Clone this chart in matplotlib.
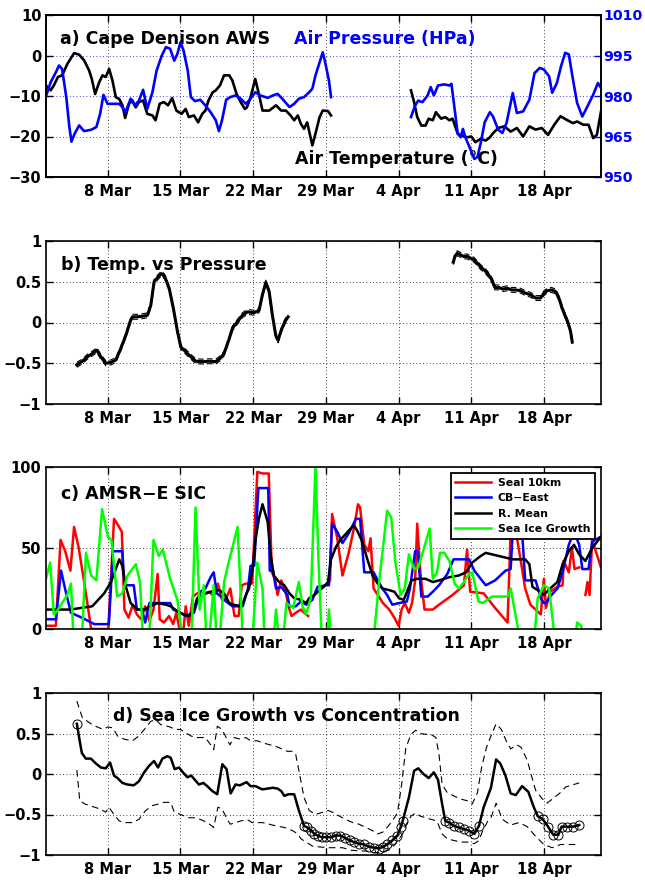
import numpy as np
import matplotlib
matplotlib.use("Agg")
import matplotlib.pyplot as plt

plt.rcParams["font.family"] = ["DejaVu Sans"]
plt.rcParams["font.weight"] = "bold"
plt.rcParams["axes.unicode_minus"] = True

nan = np.nan

# ── x axis (days, 8 = 8 Mar) ──────────────────────────────────────────────────
XLIM = (2.0, 55.5)
TICK_DAYS = [8, 15, 22, 29, 36, 43, 50]
TICK_LABELS = ["8 Mar", "15 Mar", "22 Mar", "29 Mar", "4 Apr", "11 Apr", "18 Apr"]

# ── a) Cape Denison AWS ───────────────────────────────────────────────────────
temp_day = [2.04, 2.5, 2.8, 3.2, 3.6, 4.1, 4.76, 5.24, 5.72, 6.2, 6.46, 6.78, 7.17, 7.49, 7.8,
            8.13, 8.45, 8.77, 9.09, 9.41, 9.67, 10.05, 10.37, 10.69, 11.0, 11.4, 11.8, 12.3,
            12.6, 13.0, 13.4, 13.8, 14.2, 14.6, 15.1, 15.5, 15.8, 16.3, 16.7, 17.1, 17.4,
            17.7, 18.1, 18.4, 18.8, 19.2, 19.7, 20.0, 20.4, 20.8, 21.2, 21.4, 21.75, 22.2,
            22.55, 22.9, 23.55, 24.2, 24.7, 25.15, 25.6, 25.95, 26.3, 26.6, 26.9, 27.2, 27.7,
            28.0, 28.4, 28.7, 29.2, 29.5, 33.0,
            37.2, 37.5, 37.8, 38.2, 38.6, 38.9, 39.3, 39.6, 40.1, 40.5, 40.9, 41.2, 41.7, 42.1,
            42.6, 43.0, 43.4, 43.9, 44.4, 44.8, 45.1, 45.6, 46.2, 46.8, 47.4, 48.0, 48.6, 49.2,
            49.8, 50.4, 51.0, 51.6, 52.2, 52.8, 53.2, 53.8, 54.3, 54.75, 55.1, 55.5]
temp_val = [-7.4, -8.6, -7.4, -5.3, -4.9, -2.1, 0.6, 0.2, -1.2, -3.7, -5.8, -9.5, -6.6, -4.9, -5.3,
            -3.3, -6.2, -10.3, -10.7, -12.3, -15.4, -11.9, -11.1, -12.8, -11.5, -11.1, -14.4, -14.8,
            -16.0, -11.9, -11.5, -12.3, -10.5, -13.6, -14.4, -13.2, -15.2, -14.8, -16.5, -14.4, -13.6,
            -11.1, -9.1, -8.6, -7.4, -4.9, -4.9, -6.2, -9.5, -11.5, -13.2, -12.8, -10.3, -5.8,
            -9.5, -13.6, -13.6, -12.3, -13.6, -13.6, -14.8, -16.0, -14.8, -16.9, -18.1, -16.5, -22.2,
            -19.3, -15.2, -13.6, -13.7, -14.8, nan,
            -8.6, -11.5, -15.2, -17.3, -17.3, -15.6, -16.0, -14.0, -15.6, -15.2, -16.0, -15.6, -19.3, -19.8,
            -20.2, -20.0, -21.4, -20.6, -21.0, -20.2, -19.2, -17.9, -17.5, -18.8, -17.9, -20.0, -17.5, -18.3,
            -17.9, -19.6, -17.1, -15.0, -15.9, -16.7, -16.3, -17.1, -17.1, -20.4, -19.6, -13.8]

pres_day = [2.04, 2.5, 3.0, 3.3, 3.6, 4.0, 4.3, 4.5, 4.8, 5.24, 5.72, 6.4, 6.9, 7.26, 7.58, 7.97,
            8.6, 9.1, 9.4, 9.7, 10.2, 10.6, 11.0, 11.4, 11.8, 12.3, 12.7, 13.2, 13.6, 14.0, 14.4,
            14.7, 15.0, 15.3, 15.7, 16.0, 16.4, 16.9, 17.4, 17.9, 18.4, 18.7, 19.0, 19.4, 19.8,
            20.3, 20.8, 21.3, 21.75, 22.2, 22.7, 23.4, 23.9, 24.35, 24.8, 25.5, 25.95, 26.4, 26.9,
            27.4, 27.7, 28.0, 28.4, 28.7, 28.9, 29.3, 29.5, 33.0,
            37.2, 37.6, 37.9, 38.3, 38.8, 39.1, 39.4, 39.8, 40.4, 40.9, 41.1, 41.3, 41.7, 42.0,
            42.2, 42.5, 42.9, 43.3, 43.6, 43.9, 44.3, 44.8, 45.1, 45.6, 46.0, 46.4, 47.0, 47.4,
            48.0, 48.6, 49.1, 49.6, 50.0, 50.5, 50.8, 51.25, 51.65, 52.05, 52.4, 52.8, 53.2,
            53.7, 54.2, 54.75, 55.2, 55.5]
pres_val = [979.8, 985.1, 988.8, 991.3, 990.0, 979.6, 968.5, 963.1, 966.0, 969.1, 967.0, 967.5,
            968.5, 973.4, 980.4, 977.1, 977.1, 977.1, 975.9, 974.0, 979.0, 976.5, 978.3, 982.3,
            975.2, 981.4, 989.4, 995.0, 998.1, 997.5, 993.1, 995.6, 999.9, 996.8, 989.4, 979.6,
            978.1, 978.6, 976.5, 974.0, 971.0, 967.0, 971.0, 978.6, 979.6, 980.2, 979.0, 977.1,
            979.0, 981.4, 980.2, 979.3, 980.2, 980.8, 979.0, 975.9, 977.1, 979.0, 979.6, 981.4,
            982.7, 987.6, 992.5, 996.2, 993.1, 985.7, 979.6, nan,
            972.2, 976.5, 978.3, 977.7, 980.2, 983.3, 980.2, 983.9, 984.3, 983.9, 984.5, 978.3,
            966.0, 964.7, 967.8, 964.1, 960.5, 956.7, 957.4, 962.3, 970.3, 974.0, 972.4, 967.5,
            966.3, 970.0, 981.1, 973.7, 974.3, 978.6, 988.5, 990.4, 989.8, 987.3, 981.2, 984.8,
            991.0, 996.0, 995.4, 986.1, 977.4, 972.4, 976.2, 980.5, 984.8, 983.0]

# ── b) Temp. vs Pressure ──────────────────────────────────────────────────────
corr_day = [5.01, 5.56, 6.04, 6.52, 6.94, 7.33, 7.81, 8.29, 8.77, 9.25, 9.73, 10.15, 10.38, 10.86,
            11.5, 11.82, 12.14, 12.46, 12.85, 13.17, 13.49, 13.91, 14.32, 14.71, 15.03, 15.51,
            15.99, 16.48, 17.12, 17.76, 18.4, 18.82, 19.2, 19.69, 20.01, 20.49, 20.97, 21.45,
            22.09, 22.57, 22.89, 23.22, 23.54, 23.85, 24.18, 24.4, 24.66, 25.05, 25.37, 33.0,
            41.27, 41.43, 41.65, 41.97, 42.29, 42.6, 42.94, 43.26, 43.58, 43.9, 44.3, 44.7, 45.0,
            45.28, 45.67, 46.05, 46.47, 46.89, 47.27, 47.75, 48.23, 48.72, 49.2, 49.68, 50.0,
            50.32, 50.74, 51.12, 51.45, 51.77, 52.09, 52.34, 52.57, 52.73]
corr_val = [-0.52, -0.475, -0.42, -0.38, -0.34, -0.42, -0.50, -0.49, -0.46, -0.32, -0.16, 0.01,
            0.07, 0.07, 0.08, 0.09, 0.21, 0.50, 0.56, 0.60, 0.56, 0.42, 0.17, -0.11, -0.30, -0.36,
            -0.42, -0.475, -0.48, -0.475, -0.48, -0.44, -0.38, -0.20, -0.07, 0.01, 0.09, 0.13,
            0.12, 0.15, 0.34, 0.49, 0.38, 0.09, -0.16, -0.22, -0.11, 0.01, 0.07, nan,
            0.74, 0.81, 0.85, 0.83, 0.81, 0.81, 0.79, 0.77, 0.73, 0.68, 0.64, 0.58, 0.52,
            0.43, 0.43, 0.41, 0.42, 0.40, 0.40, 0.39, 0.36, 0.34, 0.30, 0.30, 0.36,
            0.39, 0.40, 0.38, 0.30, 0.17, 0.07, -0.01, -0.11, -0.24]
corr_band = 0.03  # half width of the dashed bounds

# ── c) AMSR-E SIC ─────────────────────────────────────────────────────────────
seal_day = [2.1, 3.0, 3.45, 3.9, 4.4, 4.75, 5.2, 5.7, 6.4, 8.05, 8.6, 9.0, 9.35, 9.6, 10.0, 10.4,
            10.8, 11.2, 11.6, 12.0, 12.4, 12.8, 13.0, 13.4, 13.9, 14.3, 14.6, 14.9, 15.3, 15.5,
            15.8, 16.2, 16.6, 17.2, 17.8, 18.2, 18.6, 19.0, 19.4, 19.8, 20.2, 20.6, 20.9, 21.3,
            21.9, 22.4, 22.9, 23.5, 23.8, 24.1, 24.35, 24.7, 25.1, 25.4, 25.7, 26.1, 26.6, 27.1,
            27.3, 28.3, 29.4, 29.6, 30.1, 30.6, 31.2, 31.7, 32.1, 32.3, 32.7, 33.1, 33.3, 33.6,
            34.0, 34.5, 35.1, 35.6, 36.0, 36.3, 36.6, 37.0, 37.3, 37.6, 37.8, 38.1, 38.5, 39.3,
            39.9, 41.2, 42.3, 42.6, 42.9, 44.2, 45.3, 46.5, 46.8, 47.3, 47.7, 48.2, 48.7, 49.7,
            50.0, 50.2, 50.6, 51.3, 51.8, 51.9, 52.4, 52.7, 52.95, 53.4, 53.7, 54.0, 54.2, 54.4,
            54.65, 55.0, 55.5]
seal_val = [2, 2, 55, 48, 36, 63, 50, 30, 0, 0, 68, 64, 60, 12, 7, 15,
            9, 6, 14, 5, 12, 34, 6, 4, 8, 3, 10, 0, 0, 14,
            2, 20, 22, 22, 23, 20, 28, 18, 19, 25, 8, 8, 27, 28,
            28, 97, 96, 96, 35, 31, 21, 30, 24, 14, 8, 10, 12, 9,
            8, nan, 30, 71, 56, 33, 47, 62, 77, 75, 52, 48, 56, 25,
            21, 16, 12, 7, 2, 12, 16, 10, 16, 30, 65, 35, 12, 12,
            15, 21, 27, 49, 23, 22, 13, 4, 60, 60, 45, 25, 15, 9,
            31, 13, 23, 26, 27, 42, 35, 50, 37, 38, nan, 21, 29, 21,
            55, 48, 38]

cbe_day = [2.05, 3.0, 3.5, 3.95, 4.45, 5.5, 6.7, 8.1, 8.5, 9.4, 9.6, 10.5, 10.8, 11.3, 11.6, 12.0,
           14.0, 14.3, 15.0, 15.5, 16.3, 16.9, 17.4, 17.9, 18.2, 18.5, 18.9, 19.2, 20.0, 21.0,
           21.5, 21.75, 22.1, 22.5, 23.45, 23.6, 23.9, 24.2, 24.7, 25.3, 25.5, 26.1, 26.6, 27.1,
           27.7, 28.2, 29.0, 29.3, 29.6, 30.1, 30.6, 31.2, 31.9, 32.3, 32.7, 33.6, 34.0, 34.45,
           34.9, 35.4, 36.05, 36.8, 37.1, 37.6, 37.85, 38.2, 38.8, 39.3, 39.9, 40.7, 41.3, 42.8,
           43.3, 44.4, 45.3, 46.3, 46.8, 47.0, 47.9, 48.2, 49.2, 49.7, 50.0, 50.2, 50.6, 51.3,
           51.8, 52.4, 52.9, 53.4, 53.7, 54.3, 54.65, 55.5]
cbe_val = [6, 6, 36, 23, 10, 7, 3, 3, 48, 48, 27, 27, 12, 12, 4, 16,
           16, 12, 10, 8, 10, 23, 25, 32, 35, 22, 20, 18, 14, 14,
           25, 39, 39, 87, 87, 36, 36, 25, 26, 21, 14, 14, 17, 15,
           18, 26, 27, 27, 65, 60, 53, 59, 68, 68, 35, 35, 30, 25,
           21, 15, 16, 17, 25, 48, 48, 20, 20, 23, 27, 34, 43, 43,
           36, 27, 30, 36, 37, 60, 60, 30, 30, 19, 16, 16, 20, 25,
           35, 52, 60, 52, 37, 37, 54, 57]

rmean_day = [2.04, 3.2, 4.4, 5.4, 6.5, 7.65, 8.3, 8.77, 9.1, 9.4, 9.7, 10.2, 10.85, 11.5, 12.1,
             12.8, 13.6, 14.05, 14.7, 15.3, 15.8, 16.3, 16.6, 17.1, 17.9, 18.7, 19.2, 19.7, 20.1,
             20.9, 21.3, 21.6, 21.9, 22.2, 22.55, 22.9, 23.4, 23.7, 24.0, 24.5, 25.0, 25.5, 25.95,
             26.6, 27.1, 27.4, 27.9, 28.4, 28.8, 29.2, 29.5, 30.0, 30.4, 31.1, 31.7, 32.0, 32.5,
             33.0, 33.5, 34.0, 34.45, 35.1, 35.6, 36.05, 36.5, 37.25, 37.8, 38.6, 39.3, 39.9,
             40.9, 41.8, 42.5, 43.1, 43.9, 44.4, 45.7, 47.0, 48.2, 48.6, 48.9, 49.4, 50.0, 50.6,
             51.3, 51.8, 52.4, 52.9, 53.4, 54.0, 54.65, 55.5]
rmean_val = [12, 12, 12, 13, 14, 22, 29, 37, 43, 39, 27, 16, 12, 12, 14,
             16, 15, 14, 11, 9, 8, 12, 19, 21, 23, 24, 22, 16, 15,
             14, 21, 25, 35, 54, 68, 77, 66, 45, 33, 29, 27, 22, 19,
             18, 16, 19, 21, 24, 26, 29, 43, 51, 55, 60, 64, 61, 54,
             43, 33, 28, 25, 24, 23, 19, 18, 30, 31, 31, 29, 30,
             32, 33, 35, 41, 45, 47, 45, 43, 43, 40, 26, 24, 21, 25,
             29, 40, 48, 52, 46, 42, 50, 57]

growth_day = [2.0, 2.45, 2.8, 3.0, 3.6, 4.1, 4.45, 4.8, 5.4, 5.9, 6.4, 6.9, 7.45, 8.0, 8.35, 8.9,
              9.4, 9.9, 10.7, 11.1, 11.5, 11.9, 12.4, 12.9, 13.3, 14.0, 14.7, 15.5, 16.0, 16.45,
              16.85, 17.25, 17.6, 18.2, 18.6, 19.2, 19.6, 20.5, 21.1, 21.8, 22.4, 22.9, 23.2, 23.8,
              24.2, 24.7, 25.2, 25.85, 26.4, 26.75, 27.1, 27.55, 28.0, 28.3, 28.7, 29.0, 29.3,
              29.6, 33.4, 34.1, 34.9, 35.3, 35.7, 36.2, 36.6, 37.0, 37.5, 37.9, 38.5, 39.0, 39.3,
              39.7, 40.0, 40.4, 40.9, 41.4, 41.8, 42.3, 42.8, 43.1, 43.7, 44.1, 45.0, 46.5, 46.8,
              48.1, 48.9, 49.4, 50.0, 50.5, 51.3, 52.8, 53.2, 53.6, 54.0, 55.5]
growth_val = [30, 41, 9, 10, 16, 21, 28, -20, -20, 47, 33, 30, 74, 57, 55, 20,
              22, 33, 40, 29, -20, -20, 55, 45, 49, 31, 18, -20, -20, 75,
              12, 27, -20, 27, -20, 29, 40, 63, -20, -20, 41, 25, -20, -20,
              12, -20, 16, 13, 29, 14, 9, 19, 101, 41, -20, -20, 12,
              -20, -20, 27, 73, 69, 41, 21, 25, 46, 37, 38, 51, 62, 31,
              35, 47, 47, 42, 28, 25, 29, 34, 35, 17, 16, 20, 20, 25,
              -20, -20, 19, 27, 25, -20, -20, 4, 2, -20, -20]

# ── d) Sea Ice Growth vs Concentration ────────────────────────────────────────
gc_day = [5.02, 5.24, 5.5, 5.88, 6.37, 6.85, 7.33, 7.8, 8.22, 8.6, 8.93, 9.4, 9.9, 10.5, 11.0,
          11.5, 11.97, 12.45, 12.84, 13.26, 13.74, 14.06, 14.44, 14.86, 15.24, 15.66, 16.04,
          16.37, 16.78, 17.2, 17.58, 18.06, 18.54, 19.03, 19.44, 19.83, 20.3, 20.72, 21.36,
          21.75, 22.23, 22.87, 23.4, 23.9, 24.35, 24.7, 25.0, 25.4, 25.95, 26.4, 26.9, 27.2,
          27.6, 27.9, 28.2, 28.6, 29.0, 29.5, 29.96, 30.4, 30.86, 31.3, 31.7, 32.2, 32.7, 33.2,
          33.65, 34.1, 34.5, 34.9, 35.4, 35.9, 36.2, 36.4, 37.0, 37.5, 37.9, 38.4, 38.9, 39.4,
          39.8, 40.2, 40.5, 40.9, 41.3, 41.8, 42.3, 42.8, 43.3, 43.75, 44.2, 44.9, 45.4, 45.8,
          46.3, 46.8, 47.3, 47.9, 48.5, 49.0, 49.4, 49.9, 50.4, 50.9, 51.4, 51.7, 52.2, 52.8,
          53.4]
gc_val = [0.62, 0.45, 0.26, 0.19, 0.19, 0.13, 0.08, 0.07, 0.14, -0.02, -0.05, -0.11, -0.13, -0.14,
          -0.09, 0.02, 0.10, 0.16, 0.08, 0.19, 0.22, 0.20, 0.06, 0.08, 0.02, -0.04, -0.02, -0.07,
          -0.13, -0.11, -0.15, -0.21, -0.25, 0.12, 0.06, -0.24, -0.13, -0.14, -0.10, -0.15, -0.15,
          -0.19, -0.18, -0.17, -0.18, -0.21, -0.27, -0.25, -0.25, -0.45, -0.64, -0.66, -0.70,
          -0.74, -0.76, -0.78, -0.78, -0.78, -0.76, -0.76, -0.79, -0.82, -0.84, -0.86, -0.87,
          -0.90, -0.91, -0.92, -0.90, -0.87, -0.82, -0.76, -0.66, -0.58, -0.29, 0.04, 0.07, 0.00,
          -0.05, 0.02, -0.07, -0.37, -0.58, -0.60, -0.64, -0.66, -0.68, -0.70, -0.74, -0.64,
          -0.41, -0.17, 0.18, 0.13, -0.02, -0.24, -0.26, -0.15, -0.22, -0.40, -0.52, -0.56,
          -0.65, -0.75, -0.75, -0.65, -0.65, -0.65, -0.63]
gc_sig = [1, 0, 0, 0, 0, 0, 0, 0, 0, 0, 0, 0, 0, 0, 0,
          0, 0, 0, 0, 0, 0, 0, 0, 0, 0, 0, 0,
          0, 0, 0, 0, 0, 0, 0, 0, 0, 0, 0, 0,
          0, 0, 0, 0, 0, 0, 0, 0, 0, 0, 0, 1, 1,
          1, 1, 1, 1, 1, 1, 1, 1, 1, 1, 1, 1, 1, 1,
          1, 1, 1, 1, 1, 1, 1, 1, 0, 0, 0, 0, 0, 0,
          0, 0, 1, 1, 1, 1, 1, 1, 1, 1, 0, 0, 0, 0,
          0, 0, 0, 0, 0, 0, 1, 1, 1, 1, 1, 1, 1, 1,
          1]

gc_up_day = [5.02, 5.56, 6.04, 6.5, 7.17, 7.6, 7.97, 8.5, 8.93, 9.57, 10.37, 11.0, 11.65, 12.13,
             12.6, 13.1, 14.0, 14.5, 15.0, 15.5, 16.0, 16.5, 17.4, 17.9, 18.2, 18.55, 19.0, 19.76,
             20.15, 20.8, 21.3, 21.75, 22.4, 22.9, 24.2, 25.3, 25.8, 26.1, 26.5, 26.9, 27.4, 28.0,
             28.5, 29.2, 29.8, 30.3, 30.9, 31.6, 32.2, 32.85, 33.5, 33.97, 34.45, 34.9, 35.4, 35.9,
             36.3, 36.7, 37.2, 37.65, 38.1, 38.6, 39.1, 39.6, 39.9, 40.2, 40.7, 41.3, 42.0, 42.6,
             43.1, 43.6, 44.0, 44.45, 44.9, 45.4, 45.9, 46.4, 46.8, 47.4, 47.8, 48.4, 48.8, 49.2,
             49.8, 50.3, 50.9, 51.5, 52.1, 53.4]
gc_up_val = [0.90, 0.69, 0.65, 0.61, 0.57, 0.55, 0.58, 0.57, 0.47, 0.43, 0.41, 0.47, 0.57, 0.65,
             0.67, 0.61, 0.58, 0.55, 0.55, 0.51, 0.47, 0.45, 0.45, 0.36, 0.30, 0.59, 0.55, 0.36,
             0.45, 0.43, 0.45, 0.41, 0.41, 0.385, 0.34, 0.28, 0.28, 0.24, -0.02, -0.29, -0.45, -0.50,
             -0.48, -0.45, -0.48, -0.52, -0.56, -0.60, -0.62, -0.66, -0.70, -0.74, -0.72, -0.66, -0.58,
             -0.48, -0.13, 0.32, 0.49, 0.54, 0.50, 0.49, 0.49, 0.45, 0.24, -0.13, -0.23, -0.27, -0.31,
             -0.33, -0.37, -0.23, 0.08, 0.32, 0.47, 0.62, 0.55, 0.40, 0.31, 0.36, 0.33, 0.17, -0.02,
             -0.20, -0.30, -0.36, -0.30, -0.24, -0.16, -0.11]

gc_lo_day = [5.02, 5.3, 5.8, 6.5, 7.2, 7.8, 8.1, 8.6, 9.1, 9.7, 10.4, 11.0, 11.65, 12.3, 12.9, 13.4,
             14.05, 14.4, 15.0, 15.4, 15.8, 16.4, 16.9, 17.6, 18.2, 18.6, 19.0, 19.5, 19.8, 20.3,
             20.8, 21.4, 21.9, 22.4, 22.9, 24.2, 25.0, 25.8, 26.3, 26.6, 27.1, 27.7, 28.4, 29.2,
             30.6, 31.4, 32.2, 32.85, 33.5, 34.1, 34.8, 35.25, 35.7, 36.05, 36.4, 36.75, 37.2,
             37.65, 38.1, 38.6, 39.7, 40.2, 40.7, 41.3, 42.0, 42.6, 43.3, 43.75, 44.1, 44.6, 44.9,
             45.4, 46.0, 46.8, 47.6, 48.4, 49.2, 50.0, 50.8, 51.6, 52.4, 53.4]
gc_lo_val = [0.05, -0.33, -0.37, -0.40, -0.43, -0.47, -0.41, -0.50, -0.58, -0.60, -0.60, -0.56,
             -0.45, -0.39, -0.37, -0.35, -0.35, -0.47, -0.50, -0.52, -0.54, -0.54, -0.56, -0.60,
             -0.66, -0.41, -0.43, -0.56, -0.62, -0.60, -0.58, -0.56, -0.60, -0.60, -0.60, -0.64,
             -0.66, -0.70, -0.74, -0.80, -0.84, -0.89, -0.90, -0.91, -0.91, -0.94, -0.95, -0.95,
             -0.97, -0.97, -0.95, -0.93, -0.86, -0.80, -0.74, -0.62, -0.52, -0.48, -0.52, -0.54,
             -0.58, -0.74, -0.80, -0.82, -0.84, -0.84, -0.86, -0.82, -0.70, -0.58, -0.54, -0.36,
             -0.56, -0.63, -0.60, -0.65, -0.77, -0.87, -0.91, -0.87, -0.87, -0.87]

# ── Figure ────────────────────────────────────────────────────────────────────
W, H = 645, 881
fig = plt.figure(figsize=(W / 100, H / 100), dpi=100)
fig.patch.set_facecolor("white")

LEFT, RIGHT = 45.5, 601


def make_axes(top_px, bottom_px):
    return fig.add_axes([LEFT / W, 1 - bottom_px / H, (RIGHT - LEFT) / W, (bottom_px - top_px) / H])


def style_axes(ax, right_ticks=True):
    ax.set_xlim(*XLIM)
    ax.set_xticks(TICK_DAYS)
    ax.set_xticklabels(TICK_LABELS)
    ax.tick_params(direction="in", length=5, width=1, top=True, right=right_ticks,
                   labelsize=10.5, pad=5)
    ax.tick_params(axis="y", pad=3)
    for lab in ax.get_xticklabels() + ax.get_yticklabels():
        lab.set_fontweight("bold")
    for sp in ax.spines.values():
        sp.set_linewidth(1.2)
    ax.grid(True, color="black", linestyle=(0, (1, 3)), linewidth=0.6)


# a) ---------------------------------------------------------------------------
ax_a = make_axes(15, 177)
ax_a.plot(temp_day, temp_val, color="black", lw=1.9, zorder=3)
ax_a.set_ylim(-30, 10)
ax_a.set_yticks([-30, -20, -10, 0, 10])
style_axes(ax_a, right_ticks=False)
ax_a.grid(False, axis="y")

ax_a2 = ax_a.twinx()
ax_a2.plot(pres_day, pres_val, color="#0000ff", lw=1.9, zorder=2)
ax_a2.set_ylim(950, 1010)
ax_a2.set_yticks([950, 965, 980, 995, 1010])
ax_a2.tick_params(axis="y", direction="in", length=5, width=1, colors="#0000ff",
                  labelsize=10.2, pad=1.5)
for lab in ax_a2.get_yticklabels():
    lab.set_fontweight("bold")
ax_a2.grid(True, axis="y", color="#0000ff", linestyle=(0, (1, 3)), linewidth=0.6)
for sp in ax_a2.spines.values():
    sp.set_linewidth(1.2)
ax_a2.set_xlim(*XLIM)

ax_a.text(0.027, 0.82, "a) Cape Denison AWS", transform=ax_a.transAxes, fontsize=12.5,
          fontweight="bold", va="baseline", ha="left", zorder=5)
ax_a.text(0.447, 0.82, "Air Pressure (HPa)", transform=ax_a.transAxes, fontsize=12.5,
          fontweight="bold", color="#0000ff", va="baseline", ha="left", zorder=5)
ax_a.text(0.449, 0.08, "Air Temperature (\u00b0C)", transform=ax_a.transAxes,
          fontsize=12.5, fontweight="bold", va="baseline", ha="left", zorder=5)

# b) ---------------------------------------------------------------------------
ax_b = make_axes(241, 404)
cd = np.array(corr_day)
cv = np.array(corr_val)
ax_b.plot(cd, cv + corr_band, color="black", lw=0.8, ls=(0, (5, 3)))
ax_b.plot(cd, cv - corr_band, color="black", lw=0.8, ls=(0, (5, 3)))
ax_b.plot(cd, cv, color="black", lw=2.2)
ax_b.set_ylim(-1, 1)
ax_b.set_yticks([-1, -0.5, 0, 0.5, 1])
ax_b.set_yticklabels(["\u22121", "\u22120.5", "0", "0.5", "1"])
style_axes(ax_b)
ax_b.text(0.028, 0.82, "b) Temp. vs Pressure", transform=ax_b.transAxes, fontsize=12.5,
          fontweight="bold", va="baseline", ha="left")

# c) ---------------------------------------------------------------------------
ax_c = make_axes(467, 629)
ax_c.plot(seal_day, seal_val, color="#ff0000", lw=1.8, label="Seal 10km")
ax_c.plot(cbe_day, cbe_val, color="#0000ff", lw=1.8, label="CB\u2212East")
ax_c.plot(rmean_day, rmean_val, color="black", lw=1.8, label="R. Mean")
ax_c.plot(growth_day, growth_val, color="#00ff00", lw=1.8, label="Sea Ice Growth")
ax_c.set_ylim(0, 100)
ax_c.set_yticks([0, 50, 100])
style_axes(ax_c)
leg = ax_c.legend(loc="upper right", fontsize=7.8, frameon=True, fancybox=False,
                  edgecolor="black", framealpha=1, handlelength=3.3, handletextpad=0.6,
                  borderpad=0.45, labelspacing=0.5, borderaxespad=0.55)
leg.get_frame().set_linewidth(1.3)
for t in leg.get_texts():
    t.set_fontweight("bold")
ax_c.text(0.028, 0.80, "c) AMSR\u2212E SIC", transform=ax_c.transAxes, fontsize=12.5,
          fontweight="bold", va="baseline", ha="left")

# d) ---------------------------------------------------------------------------
ax_d = make_axes(693, 855)
ax_d.plot(gc_up_day, gc_up_val, color="black", lw=0.8, ls=(0, (6, 4)))
ax_d.plot(gc_lo_day, gc_lo_val, color="black", lw=0.8, ls=(0, (6, 4)))
ax_d.plot(gc_day, gc_val, color="black", lw=1.8)
sig = np.array(gc_sig, dtype=bool)
ax_d.plot(np.array(gc_day)[sig], np.array(gc_val)[sig], ls="none", marker="o", ms=6.5,
          mfc="none", mec="black", mew=0.7)
ax_d.set_ylim(-1, 1)
ax_d.set_yticks([-1, -0.5, 0, 0.5, 1])
ax_d.set_yticklabels(["\u22121", "\u22120.5", "0", "0.5", "1"])
style_axes(ax_d)
ax_d.text(0.121, 0.83, "d) Sea Ice Growth vs Concentration", transform=ax_d.transAxes,
          fontsize=12.5, fontweight="bold", va="baseline", ha="left")

fig.savefig("out.png", dpi=100, facecolor="white")
